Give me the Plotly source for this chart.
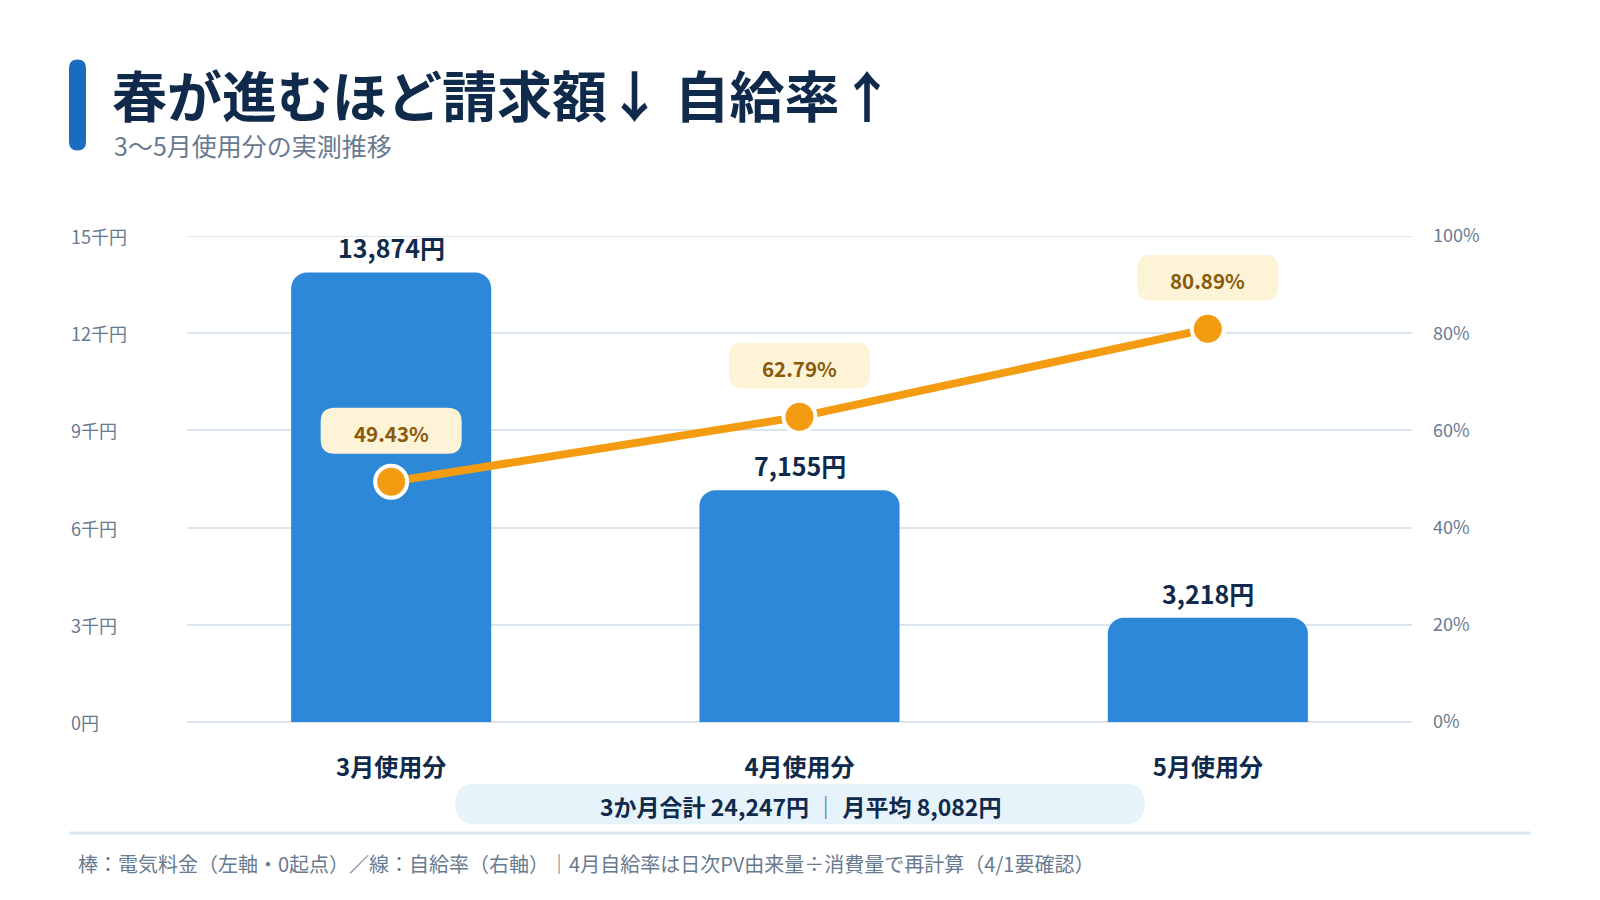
import plotly.graph_objects as go

# data
months = ["3月使用分", "4月使用分", "5月使用分"]
bill_yen = [13874, 7155, 3218]
self_rate = [49.43, 62.79, 80.89]

yen_ticks = [0, 3000, 6000, 9000, 12000, 15000]
yen_tick_text = ["0円", "3千円", "6千円", "9千円", "12千円", "15千円"]
rate_ticks = [0, 20, 40, 60, 80, 100]
rate_tick_text = ["0%", "20%", "40%", "60%", "80%", "100%"]

title = "春が進むほど請求額↓ 自給率↑"
subtitle = "3〜5月使用分の実測推移"
footnote = "棒：電気料金（左軸・0起点）／線：自給率（右軸）｜4月自給率は日次PV由来量÷消費量で再計算（4/1要確認）"

FONT = "Noto Sans CJK JP"
NAVY = "#0f2a4a"
GRAY = "#687a90"
BLUE = "#2d88d8"
ORANGE = "#f39c12"
GRID = "#dce5ee"
CREAM = "#fdf3d7"
BROWN = "#8a5a0b"
PILL = "#e7f3fb"

W, H = 1600, 900
L, R, T, B = 179, 196, 228, 186
pw = W - L - R
ph = H - T - B


def fx(px):
    return (px - L) / pw


def fy(py):
    return (H - B - py) / ph


def rounded_rect(w, h, r, cy=0):
    # path in pixels around (0, cy)
    x0, x1 = -w / 2, w / 2
    y0, y1 = cy - h / 2, cy + h / 2
    return (f"M {x0},{y0 + r} L {x0},{y1 - r} Q {x0},{y1} {x0 + r},{y1} "
            f"L {x1 - r},{y1} Q {x1},{y1} {x1},{y1 - r} "
            f"L {x1},{y0 + r} Q {x1},{y0} {x1 - r},{y0} "
            f"L {x0 + r},{y0} Q {x0},{y0} {x0},{y0 + r} Z")


total = sum(bill_yen)
avg = round(total / len(bill_yen))

fig = go.Figure()
fig.add_trace(go.Bar(
    x=months, y=bill_yen, width=0.49,
    marker=dict(color=BLUE, cornerradius=16, line_width=0),
    hoverinfo="skip",
))
fig.add_trace(go.Scatter(
    x=months, y=self_rate, yaxis="y2", mode="lines+markers",
    line=dict(color=ORANGE, width=8),
    marker=dict(size=32, color=ORANGE, line=dict(color="white", width=4)),
    cliponaxis=False, hoverinfo="skip",
))

ann = []
shapes = []

# top gridline (plotly drops the one sitting on the plot edge)
shapes.append(dict(type="line", xref="paper", yref="y", x0=0, x1=1,
                   y0=yen_ticks[-1], y1=yen_ticks[-1],
                   line=dict(color=GRID, width=2), layer="below"))

# left axis labels (left aligned)
for v, t in zip(yen_ticks, yen_tick_text):
    ann.append(dict(x=fx(61), xref="paper", y=v, yref="y", text=t,
                    xanchor="left", yanchor="middle", showarrow=False,
                    font=dict(size=18, color=GRAY)))

# bar values
for m, v in zip(months, bill_yen):
    ann.append(dict(x=m, y=v, xref="x", yref="y", text=f"<b>{v:,}円</b>",
                    showarrow=False, yanchor="middle", yshift=25,
                    font=dict(size=25, color=NAVY)))

# rate labels with rounded boxes
for i, (m, r) in enumerate(zip(months, self_rate)):
    shapes.append(dict(type="path", xref="x", yref="y2",
                       xsizemode="pixel", ysizemode="pixel",
                       xanchor=i, yanchor=r,
                       path=rounded_rect(141, 46, 14, cy=51),
                       fillcolor=CREAM, line_width=0, layer="above"))
    ann.append(dict(x=m, y=r, xref="x", yref="y2", text=f"<b>{r:.2f}%</b>",
                    showarrow=False, yanchor="middle", yshift=49,
                    font=dict(size=20.5, color=BROWN)))

# title block
shapes.append(dict(type="path", xref="paper", yref="paper",
                   xsizemode="pixel", ysizemode="pixel",
                   xanchor=fx(69.5), yanchor=fy(97),
                   path=rounded_rect(17, 91, 8.5),
                   fillcolor="#1a6cc0", line_width=0))
ann.append(dict(x=fx(102), y=fy(85), xref="paper", yref="paper",
                text=f"<b>{title}</b>", showarrow=False,
                xanchor="left", yanchor="middle",
                font=dict(size=55, color=NAVY)))
ann.append(dict(x=fx(104), y=fy(137), xref="paper", yref="paper",
                text=subtitle, showarrow=False,
                xanchor="left", yanchor="middle",
                font=dict(size=25, color=GRAY)))

# summary pill
shapes.append(dict(type="path", xref="paper", yref="paper",
                   xsizemode="pixel", ysizemode="pixel",
                   xanchor=fx(792), yanchor=fy(796),
                   path=rounded_rect(690, 40, 20),
                   fillcolor=PILL, line_width=0, layer="below"))
ann.append(dict(x=fx(792), y=fy(798), xref="paper", yref="paper",
                text=(f"<b>3か月合計 {total:,}円</b> "
                      f"<span style='color:#53657a'>｜</span> "
                      f"<b>月平均 {avg:,}円</b>"),
                showarrow=False, xanchor="center", yanchor="middle",
                font=dict(size=23, color=NAVY)))

# separator + footnote
shapes.append(dict(type="line", xref="paper", yref="paper",
                   x0=fx(61), x1=fx(1523), y0=fy(825), y1=fy(825),
                   line=dict(color="#dbe7f0", width=3)))
ann.append(dict(x=fx(68), y=fy(855), xref="paper", yref="paper",
                text=footnote, showarrow=False,
                xanchor="left", yanchor="middle",
                font=dict(size=20, color=GRAY)))

fig.update_layout(
    width=W, height=H,
    margin=dict(l=L, r=R, t=T, b=B),
    paper_bgcolor="white", plot_bgcolor="white",
    font=dict(family=FONT, color=NAVY),
    showlegend=False,
    bargap=0.51,
    xaxis=dict(type="category", showgrid=False, showline=False, zeroline=False,
               tickfont=dict(size=24, color=NAVY, weight=700),
               ticklabelstandoff=29),
    yaxis=dict(range=[0, 15000], tickvals=yen_ticks, showticklabels=False,
               showgrid=True, gridcolor=GRID, gridwidth=2,
               zeroline=True, zerolinecolor=GRID, zerolinewidth=2,
               showline=False),
    yaxis2=dict(range=[0, 100], tickvals=rate_ticks, ticktext=rate_tick_text,
                overlaying="y", side="right", showgrid=False, zeroline=False,
                showline=False, ticklabelstandoff=20,
                tickfont=dict(size=18, color=GRAY)),
    annotations=ann,
    shapes=shapes,
)

fig.write_html("out.html")
